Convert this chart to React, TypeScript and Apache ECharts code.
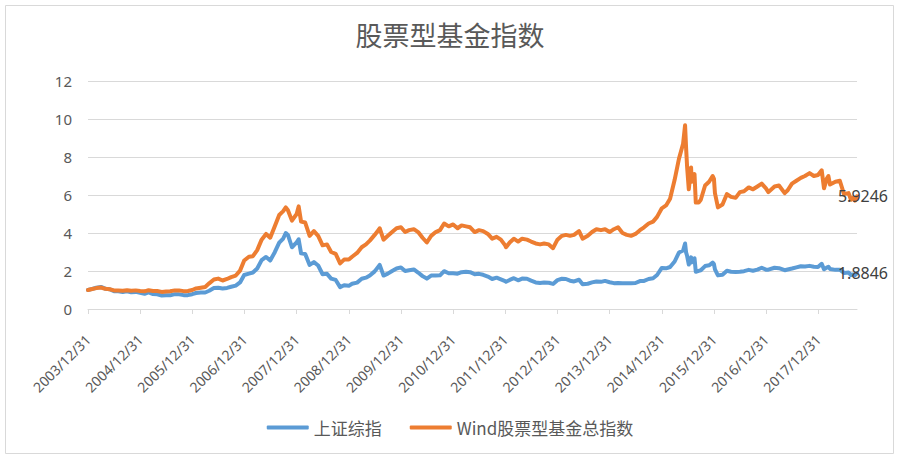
import React, { useEffect, useRef } from "react";
import * as echarts from "echarts";

const titleText = "股票型基金指数";
const seriesNames = ["上证综指", "Wind股票型基金总指数"];
const yTicks = [0, 2, 4, 6, 8, 10, 12];
const xTickYears = [2004, 2005, 2006, 2007, 2008, 2009, 2010, 2011, 2012, 2013, 2014, 2015, 2016, 2017, 2018];

const dates = [
  "2003-12-31","2004-01-30","2004-02-27","2004-03-31","2004-04-30","2004-05-31","2004-06-30","2004-07-30","2004-08-31","2004-09-30","2004-10-29","2004-11-30","2004-12-31",
  "2005-01-31","2005-02-28","2005-03-31","2005-04-29","2005-05-31","2005-06-30","2005-07-29","2005-08-31","2005-09-30","2005-10-31","2005-11-30","2005-12-30",
  "2006-01-26","2006-02-28","2006-03-31","2006-04-28","2006-05-31","2006-06-30","2006-07-31","2006-08-31","2006-09-29","2006-10-31","2006-11-30","2006-12-29",
  "2007-01-31","2007-02-28","2007-03-30","2007-04-30","2007-05-31","2007-06-29","2007-07-31","2007-08-31","2007-09-28","2007-10-16","2007-10-31","2007-11-28","2007-12-31",
  "2008-01-14","2008-01-31","2008-02-29","2008-03-31","2008-04-30","2008-05-30","2008-06-30","2008-07-31","2008-08-29","2008-09-30","2008-10-31","2008-11-28","2008-12-31",
  "2009-01-23","2009-02-27","2009-03-31","2009-04-30","2009-05-27","2009-06-30","2009-07-31","2009-08-04","2009-08-31","2009-09-30","2009-10-30","2009-11-30","2009-12-31",
  "2010-01-29","2010-02-26","2010-03-31","2010-04-30","2010-05-31","2010-06-30","2010-07-30","2010-08-31","2010-09-30","2010-10-29","2010-11-30","2010-12-31",
  "2011-01-31","2011-02-28","2011-03-31","2011-04-29","2011-05-31","2011-06-30","2011-07-29","2011-08-31","2011-09-30","2011-10-31","2011-11-30","2011-12-30",
  "2012-01-05","2012-01-31","2012-02-29","2012-03-30","2012-04-27","2012-05-31","2012-06-29","2012-07-31","2012-08-31","2012-09-28","2012-10-31","2012-11-30","2012-12-31",
  "2013-01-31","2013-02-28","2013-03-29","2013-04-26","2013-05-31","2013-06-25","2013-07-31","2013-08-30","2013-09-30","2013-10-31","2013-11-29","2013-12-31",
  "2014-01-30","2014-02-28","2014-03-31","2014-04-30","2014-05-30","2014-06-30","2014-07-31","2014-08-29","2014-09-30","2014-10-31","2014-11-28","2014-12-31",
  "2015-01-30","2015-02-27","2015-03-31","2015-04-30","2015-05-29","2015-06-12","2015-06-19","2015-06-26","2015-07-08","2015-07-24","2015-07-28","2015-08-17","2015-08-26","2015-09-15","2015-09-30","2015-10-30","2015-11-27","2015-12-22","2015-12-31",
  "2016-01-07","2016-01-28","2016-02-29","2016-03-31","2016-04-29","2016-05-31","2016-06-30","2016-07-29","2016-08-31","2016-09-30","2016-10-31","2016-11-30","2016-12-30",
  "2017-01-16","2017-02-28","2017-03-31","2017-05-10","2017-05-31","2017-06-30","2017-07-31","2017-08-31","2017-09-29","2017-10-31","2017-11-30","2017-12-29",
  "2018-01-24","2018-02-09","2018-02-28","2018-03-12","2018-03-23","2018-04-30","2018-05-31","2018-06-29","2018-07-31","2018-08-17","2018-08-31","2018-09-14","2018-09-28"
];

const shComposite = [
  1.00,1.06,1.12,1.16,1.07,1.04,0.94,0.93,0.90,0.93,0.88,0.90,0.85,
  0.80,0.87,0.79,0.77,0.71,0.72,0.72,0.78,0.77,0.73,0.73,0.78,
  0.84,0.87,0.87,0.96,1.10,1.12,1.08,1.11,1.17,1.23,1.40,1.79,
  1.86,1.92,2.13,2.57,2.74,2.55,2.99,3.49,3.71,4.00,3.90,3.25,3.51,
  3.67,2.93,2.90,2.32,2.47,2.29,1.83,1.85,1.60,1.53,1.15,1.25,1.22,
  1.33,1.39,1.59,1.65,1.76,1.98,2.28,2.32,1.76,1.86,2.00,2.13,2.19,
  2.00,2.04,2.08,1.92,1.73,1.60,1.76,1.76,1.77,1.99,1.88,1.88,
  1.86,1.94,1.96,1.94,1.83,1.85,1.80,1.71,1.58,1.65,1.56,1.47,
  1.43,1.53,1.62,1.51,1.60,1.59,1.49,1.40,1.37,1.39,1.38,1.32,1.52,
  1.59,1.58,1.49,1.45,1.54,1.30,1.33,1.40,1.45,1.43,1.48,1.41,
  1.36,1.37,1.36,1.35,1.36,1.37,1.47,1.48,1.58,1.62,1.79,2.16,
  2.14,2.21,2.50,2.97,3.08,3.45,2.98,2.80,2.34,2.72,2.45,2.67,1.96,2.01,2.04,2.26,2.30,2.44,2.36,
  2.09,1.77,1.80,2.01,1.96,1.95,1.96,1.99,2.06,2.01,2.07,2.17,2.07,
  2.07,2.17,2.15,2.04,2.08,2.13,2.19,2.25,2.24,2.27,2.22,2.21,
  2.38,2.09,2.18,2.22,2.11,2.06,2.07,1.90,1.92,1.78,1.82,1.79,1.8846
];

const windFund = [
  1.00,1.05,1.10,1.13,1.06,1.04,0.98,0.97,0.96,0.99,0.96,0.98,0.95,
  0.93,0.99,0.95,0.95,0.90,0.92,0.93,0.98,0.97,0.94,0.95,1.00,
  1.08,1.12,1.16,1.35,1.55,1.60,1.50,1.58,1.68,1.76,2.02,2.55,
  2.75,2.78,3.10,3.65,3.95,3.75,4.35,4.95,5.15,5.35,5.20,4.65,5.00,
  5.40,4.60,4.55,3.85,4.10,3.85,3.35,3.40,3.00,2.90,2.40,2.60,2.60,
  2.75,2.95,3.25,3.40,3.60,3.90,4.20,4.25,3.65,3.85,4.05,4.25,4.30,
  4.05,4.15,4.20,4.05,3.75,3.50,3.85,4.05,4.15,4.50,4.35,4.45,
  4.25,4.40,4.35,4.30,4.05,4.15,4.10,3.95,3.70,3.80,3.65,3.35,
  3.25,3.50,3.70,3.55,3.70,3.65,3.55,3.45,3.40,3.45,3.40,3.20,3.65,
  3.85,3.90,3.85,3.90,4.10,3.70,3.85,4.05,4.20,4.15,4.20,4.05,
  4.20,4.30,4.00,3.90,3.85,3.95,4.15,4.30,4.50,4.60,4.85,5.30,
  5.45,5.80,6.80,7.90,8.70,9.67,8.50,7.50,6.30,7.45,6.70,7.10,5.60,5.60,5.75,6.50,6.70,7.00,6.85,
  6.10,5.35,5.50,6.05,5.90,5.85,6.15,6.20,6.40,6.30,6.45,6.60,6.35,
  6.15,6.45,6.50,6.10,6.25,6.60,6.75,6.90,7.00,7.15,7.00,7.05,
  7.30,6.35,6.85,7.00,6.55,6.70,6.75,6.05,6.10,5.75,5.85,5.70,5.9246
];

function toYearPos(s: string): number {
  const [y, m, d] = s.split("-").map(Number);
  const start = Date.UTC(y, 0, 1);
  const next = Date.UTC(y + 1, 0, 1);
  return y + (Date.UTC(y, m - 1, d) + 86400000 - start) / (next - start);
}

export default function App() {
  const ref = useRef<HTMLDivElement>(null);
  useEffect(() => {
    if (!ref.current) return;
    const chart = echarts.init(ref.current, undefined, { renderer: "svg" });
    const xs = dates.map(toYearPos);
    const font = "'Noto Sans', 'Noto Sans CJK SC', sans-serif";
    const gray = "#595959";
    const mk = (name: string, vals: number[], color: string, dy: number) => ({
      name,
      type: "line",
      data: vals.map((v, i) => [xs[i], v]),
      showSymbol: false,
      symbol: "none",
      lineStyle: { width: 4, color, cap: "round", join: "round" },
      itemStyle: { color },
      endLabel: {
        show: true,
        formatter: (p: any) => Number(p.value[1]).toFixed(4),
        align: "center",
        verticalAlign: "middle",
        distance: 6,
        padding: [dy * 2, 0, 0, 0],
        color: "#404040",
        fontSize: 16,
        fontFamily: font,
      },
    });
    chart.setOption({
      animation: false,
      backgroundColor: "#ffffff",
      textStyle: { fontFamily: font },
      title: {
        text: titleText,
        left: "center",
        top: 21,
        padding: 0,
        textStyle: { fontSize: 27, fontWeight: "normal", color: gray, fontFamily: "'Noto Sans CJK SC', sans-serif" },
      },
      legend: {
        data: seriesNames,
        left: "center",
        top: 414,
        icon: "roundRect",
        itemWidth: 42,
        itemHeight: 4,
        itemGap: 28,
        textStyle: { fontSize: 17, color: gray, fontFamily: "'Noto Sans CJK SC', sans-serif" },
      },
      graphic: [
        {
          type: "rect",
          shape: { x: 5.5, y: 5.5, width: 888, height: 448 },
          style: { fill: "none", stroke: "#d9d9d9", lineWidth: 1 },
          silent: true,
        },
      ],
      grid: { left: 88, right: 43, top: 81, bottom: 151, containLabel: false },
      xAxis: {
        type: "value",
        min: 2004,
        max: "dataMax",
        interval: 1,
        splitLine: { show: false },
        axisLine: { show: true, lineStyle: { color: "#d9d9d9", width: 1 } },
        axisTick: { show: true, length: 5, lineStyle: { color: "#d9d9d9" }, customValues: xTickYears },
        axisLabel: {
          customValues: xTickYears,
          rotate: 45,
          margin: 28,
          fontSize: 14,
          color: gray,
          formatter: (v: number) => `${Math.round(v) - 1}/12/31`,
        },
      },
      yAxis: {
        type: "value",
        min: yTicks[0],
        max: yTicks[yTicks.length - 1],
        interval: 2,
        axisLine: { show: false },
        axisTick: { show: false },
        axisLabel: { fontSize: 15, color: gray, margin: 16 },
        splitLine: { lineStyle: { color: "#d9d9d9", width: 1 } },
      },
      series: [
        mk(seriesNames[0], shComposite, "#5B9BD5", 2),
        mk(seriesNames[1], windFund, "#ED7D31", 3),
      ],
    });
    return () => chart.dispose();
  }, []);
  return (
    <div style={{ position: "fixed", left: 0, top: 0, width: 900, height: 460, background: "#fff" }}>
      <div ref={ref} style={{ width: 900, height: 460 }} />
    </div>
  );
}
